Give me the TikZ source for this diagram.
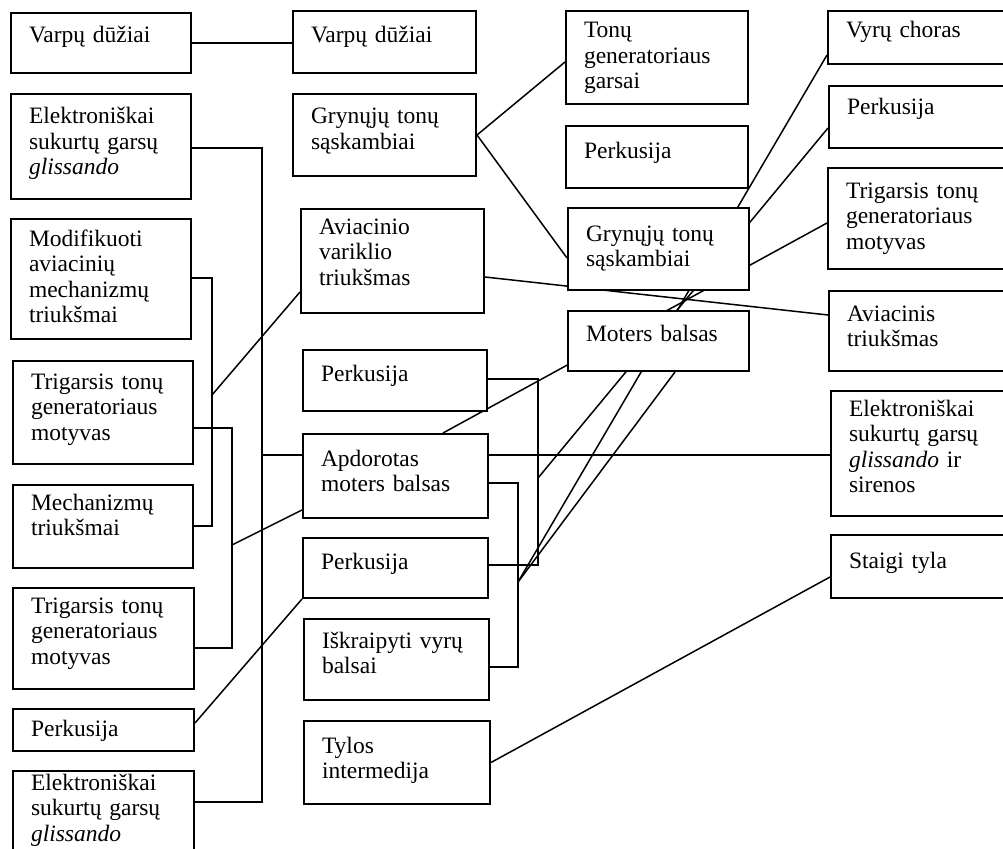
\documentclass[tikz,border=0pt]{standalone}
\usepackage{fontspec}
\setmainfont{Liberation Serif}
\usetikzlibrary{backgrounds,calc}
\tikzset{
  bx/.style={draw=black, fill=white, line width=2pt, anchor=north west,
    inner xsep=18pt, inner ysep=0pt, align=left,
    font=\fontsize{23.5}{25.5}\selectfont},
  wire/.style={draw=black, line width=1.5pt, line join=miter},
}
\newcommand\mybox[7]{%
  \pgfmathsetmacro\bxtw{#4-36}%
  \pgfmathsetmacro\bxtd{#5-#6}%
  \node[bx, text width=\bxtw pt, minimum width=#4pt, text height=#6pt, text depth=\bxtd pt] (#1) at (#2,#3) {#7};}
\begin{document}
\begin{tikzpicture}[x=1pt,y=-1pt]
\useasboundingbox (0,0) rectangle (1003,848);
% left column
\mybox{L1}{10}{12}{180}{60}{30}{Varpų dūžiai}
\mybox{L2}{10}{93}{180}{105}{30}{Elektroniškai\\sukurtų garsų\\\textit{glissando}}
\mybox{L3}{10}{218}{180}{120}{27}{Modifikuoti\\aviacinių\\mechanizmų\\triukšmai}
\mybox{L4}{12}{360}{180}{103}{28}{Trigarsis tonų\\generatoriaus\\motyvas}
\mybox{L5}{12}{484}{180}{83}{25}{Mechanizmų\\triukšmai}
\mybox{L6}{12}{587}{181}{101}{25}{Trigarsis tonų\\generatoriaus\\motyvas}
\mybox{L7}{12}{708}{181}{42}{27}{Perkusija}
\mybox{L8}{12}{770}{181}{110}{19}{Elektroniškai\\sukurtų garsų\\\textit{glissando}}
% second column
\mybox{M1}{292}{10}{183}{62}{32}{Varpų dūžiai}
\mybox{M2}{292}{93}{183}{82}{30}{Grynųjų tonų\\sąskambiai}
\mybox{M3}{300}{208}{183}{104}{25}{Aviacinio\\variklio\\triukšmas}
\mybox{M4}{302}{349}{184}{61}{31}{Perkusija}
\mybox{M5}{302}{433}{185}{84}{32}{Apdorotas\\moters balsas}
\mybox{M6}{302}{537}{185}{60}{31}{Perkusija}
\mybox{M7}{303}{618}{185}{81}{29}{Iškraipyti vyrų\\balsai}
\mybox{M8}{303}{720}{186}{83}{32}{Tylos\\intermedija}
% third column
\mybox{R1}{565}{10}{182}{93}{27}{Tonų\\generatoriaus\\garsai}
\mybox{R2}{565}{125}{182}{62}{32}{Perkusija}
\mybox{R3}{567}{207}{181}{82}{33}{Grynųjų tonų\\sąskambiai}
\mybox{R4}{567}{310}{181}{60}{30}{Moters balsas}
% fourth column
\mybox{F1}{827}{10}{200}{53}{27}{Vyrų choras}
\mybox{F2}{828}{85}{200}{62}{28}{Perkusija}
\mybox{F3}{827}{167}{200}{101}{30}{Trigarsis tonų\\generatoriaus\\motyvas}
\mybox{F4}{828}{290}{200}{80}{30}{Aviacinis\\triukšmas}
\mybox{F5}{830}{390}{200}{125}{25}{Elektroniškai\\sukurtų garsų\\\textit{glissando} ir\\sirenos}
\mybox{F6}{830}{534}{200}{63}{33}{Staigi tyla}
% junction points
\coordinate (a1) at (262,148); \coordinate (a2) at (262,802); \coordinate (a3) at (262,455);
\coordinate (b1) at (212,278); \coordinate (b2) at (212,526); \coordinate (b3) at (212,395);
\coordinate (c1) at (232,428); \coordinate (c2) at (232,648); \coordinate (c3) at (232,545);
\coordinate (d1) at (538,379); \coordinate (d2) at (538,565); \coordinate (d3) at (538,478);
\coordinate (e1) at (518,483); \coordinate (e2) at (518,667); \coordinate (e3) at (518,582);
\begin{pgfonlayer}{background}
\fill[white] (0,0) rectangle (1003,848);
\draw[wire] (L1.east) -- (L1.east -| M1.west);
\draw[wire] (L2.east |- a1) -- (a1) -- (a2) -- (L8.east |- a2);
\draw[wire] (a3) -- (M5.west |- a3);
\draw[wire] (M5.east |- a3) -- (F5.west |- a3);
\draw[wire] (L3.east |- b1) -- (b1) -- (b2) -- (L5.east |- b2);
\draw[wire] (b3) -- ($(M3.south west)+(0,-22)$);
\draw[wire] (L4.east |- c1) -- (c1) -- (c2) -- (L6.east |- c2);
\draw[wire] (c3) -- ($(M5.south west)+(0,-9)$);
\draw[wire] ($(L7.north east)+(0,15)$) -- (M6.south west);
\draw[wire] ($(R1.north west)+(0,52)$) -- (M2.east) -- ($(R3.north west)+(0,51)$);
\draw[wire] ($(M3.north east)+(0,69)$) -- ($(F4.north west)+(0,25)$);
\draw[wire] (M4.east |- d1) -- (d1) -- (d2) -- (M6.east |- d2);
\draw[wire] ($(F3.north west)+(0,56)$) -- ($(M5.north west)+(141,0)$);
\draw[wire] ($(F2.north west)+(0,43)$) -- (d3);
\draw[wire] (M5.east |- e1) -- (e1) -- (e2) -- (M7.east |- e2);
\draw[wire] ($(F1.north west)+(0,45)$) -- (e3);
\draw[wire] ($(R4.south west)+(108,0)$) -- (e3);
\draw[wire] ($(F6.north west)+(0,43)$) -- (M8.east);
\end{pgfonlayer}
\end{tikzpicture}
\end{document}
